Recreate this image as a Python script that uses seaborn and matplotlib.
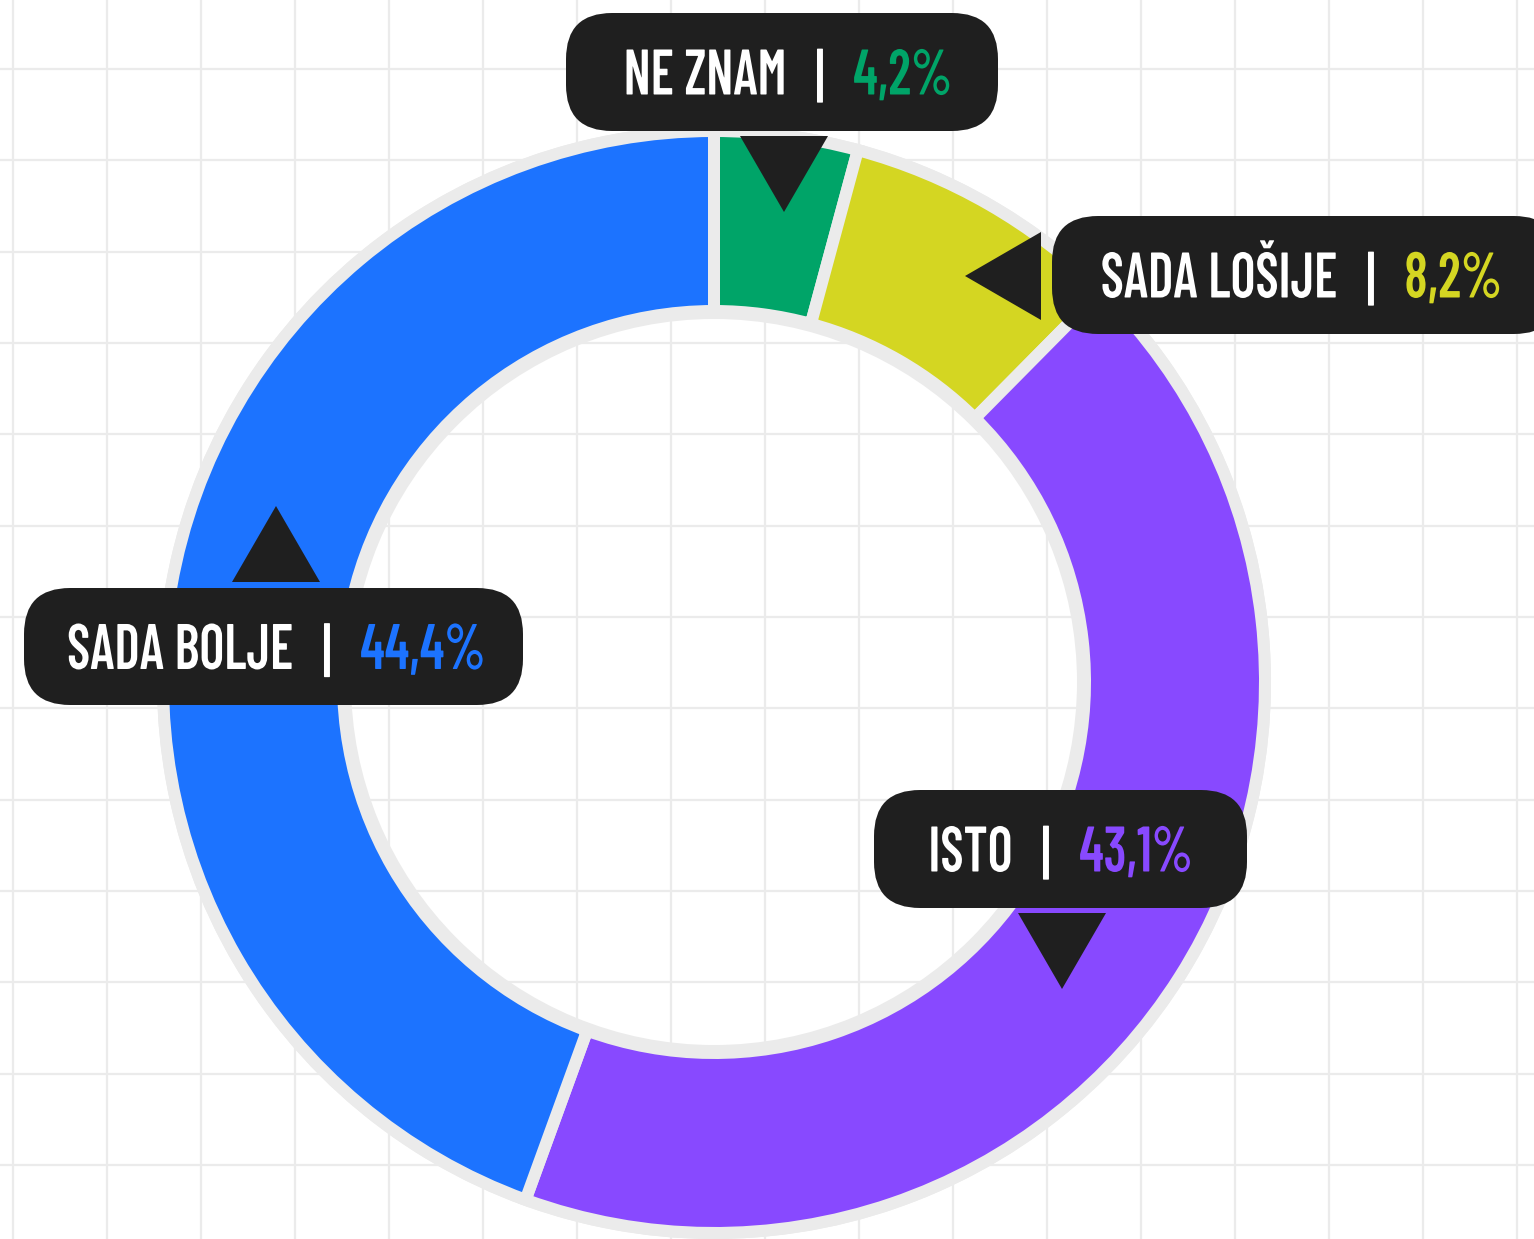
"""Donut: usporedba - sada bolje / isto / lošije."""

import matplotlib

matplotlib.use("Agg")
import matplotlib.pyplot as plt
import numpy as np
import seaborn as sns
from matplotlib.patches import FancyBboxPatch, Polygon
from matplotlib.patheffects import AbstractPathEffect
from matplotlib.transforms import Affine2D

# ---------------------------------------------------------------------------
# Podaci
# ---------------------------------------------------------------------------

KATEGORIJE = ["NE ZNAM", "SADA LOŠIJE", "ISTO", "SADA BOLJE"]
UDJELI = [4.2, 8.2, 43.1, 44.4]
BOJE = ["#00A468", "#D4D622", "#8849FF", "#1C73FF"]

# ---------------------------------------------------------------------------
# Raspored (pikseli, ishodište gore lijevo)
# ---------------------------------------------------------------------------

W, H = 1534, 1239
CENTAR = (714, 682)
R_VANJSKI, R_UNUTARNJI = 545, 377  # vidljivi obojeni prsten
R_RUB_VAN, R_RUB_UNUTRA = 557, 363  # sivi okvir
RAZMAK = 12  # sivi razmak između isječaka

TAMNA = "#1F1F1F"
SIVA = "#EBEBEB"

# (lijevo, gore, desno, dolje), x okomite crte
OZNAKE = {
    "NE ZNAM": ((566, 13, 998, 131), 820),
    "SADA LOŠIJE": ((1052, 216, 1560, 334), 1371),
    "ISTO": ((874, 790, 1247, 908), 1046),
    "SADA BOLJE": ((24, 588, 523, 705), 327),
}
# vrh strelice i smjer
STRELICE = {
    "NE ZNAM": ((784, 212), "dolje"),
    "SADA LOŠIJE": ((965, 276), "lijevo"),
    "ISTO": ((1062, 989), "dolje"),
    "SADA BOLJE": ((276, 506), "gore"),
}
RAZMAK_TEKST = 33
VISINA_VERZALA = 45
SUZENJE = 0.83
FONT = ["Barlow Condensed", "DejaVu Sans"]


def px(x, y):
    return x, H - y


class Suzi(AbstractPathEffect):
    """Dodatno vodoravno sužava tekst oko zadanog ruba."""

    def __init__(self, sx, sidro):
        super().__init__()
        self.sx = sx
        self.sidro = sidro

    def draw_path(self, renderer, gc, tpath, affine, rgbFace=None):
        ext = tpath.get_extents(affine)
        pivot = {"left": ext.x0, "right": ext.x1, "center": (ext.x0 + ext.x1) / 2}[self.sidro]
        suzi = Affine2D().translate(-pivot, 0).scale(self.sx, 1).translate(pivot, 0)
        renderer.draw_path(gc, tpath, affine + suzi, rgbFace)


def trokut(vrh, smjer, baza=88, visina=76):
    x, y = vrh
    if smjer == "dolje":
        tocke = [(x - baza / 2, y - visina), (x + baza / 2, y - visina), (x, y)]
    elif smjer == "gore":
        tocke = [(x - baza / 2, y + visina), (x + baza / 2, y + visina), (x, y)]
    else:  # lijevo
        tocke = [(x + visina, y - baza / 2), (x + visina, y + baza / 2), (x, y)]
    return [px(a, b) for a, b in tocke]


sns.set_theme(
    style="whitegrid",
    rc={"grid.color": SIVA, "grid.linewidth": 1.6, "axes.facecolor": "white"},
)
plt.rcParams["font.family"] = FONT

fig = plt.figure(figsize=(W / 100, H / 100), dpi=100)
ax = fig.add_axes([0, 0, 1, 1])

centar = px(*CENTAR)
# sivi okvir prstena
ax.pie(
    [1],
    colors=[SIVA],
    radius=R_RUB_VAN,
    center=centar,
    wedgeprops=dict(width=R_RUB_VAN - R_RUB_UNUTRA, linewidth=0),
)
# obojeni isječci, rub u sivoj boji daje razmake
pola = RAZMAK / 2
ax.pie(
    UDJELI,
    colors=BOJE,
    startangle=90,
    counterclock=False,
    radius=R_VANJSKI + pola,
    center=centar,
    wedgeprops=dict(
        width=(R_VANJSKI + pola) - (R_UNUTARNJI - pola),
        edgecolor=SIVA,
        linewidth=RAZMAK * 72 / 100,
    ),
)

ax.set_xlim(0, W)
ax.set_ylim(0, H)
ax.set_aspect("equal")
ax.set_frame_on(False)
ax.set_xticks(np.arange(13, W, 94.0))
ax.set_yticks(H - np.arange(69, H, 91.33))
ax.tick_params(length=0, labelbottom=False, labelleft=False)
ax.grid(True)
ax.set_axisbelow(True)

for kat, udio, boja in zip(KATEGORIJE, UDJELI, BOJE):
    (l, g, d, do), bar_x = OZNAKE[kat]
    ax.add_patch(
        FancyBboxPatch(
            px(l, do),
            d - l,
            do - g,
            boxstyle="round,pad=0,rounding_size=46",
            facecolor=TAMNA,
            edgecolor="none",
            zorder=3,
            clip_on=False,
        )
    )
    vrh, smjer = STRELICE[kat]
    ax.add_patch(Polygon(trokut(vrh, smjer), closed=True, facecolor=TAMNA, edgecolor="none", zorder=3))

    y_base = H - ((g + do) / 2 + VISINA_VERZALA / 2)
    stil = dict(fontsize=46.3, fontweight=600, va="baseline", zorder=4)
    ax.text(bar_x - RAZMAK_TEKST, y_base, kat, ha="right", color="white",
            path_effects=[Suzi(SUZENJE, "right")], **stil)
    ax.text(bar_x, y_base - 3, "|", ha="center", color="white",
            path_effects=[Suzi(0.8, "center")], **stil)
    ax.text(bar_x + RAZMAK_TEKST, y_base, f"{udio:.1f}%".replace(".", ","), ha="left",
            color=boja, path_effects=[Suzi(SUZENJE, "left")], **stil)

fig.savefig("out.png", dpi=100)
plt.close(fig)
